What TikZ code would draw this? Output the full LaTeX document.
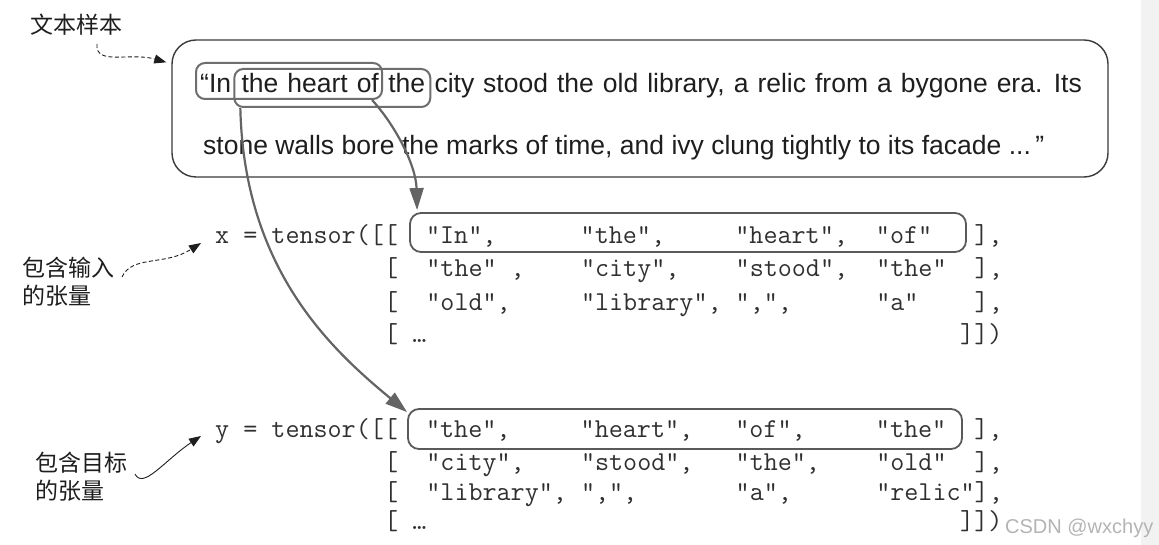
\documentclass[tikz,border=0pt]{standalone}
\usepackage{fontspec}
\setmainfont{Liberation Sans}
\newfontfamily\cjk{Noto Sans CJK SC}
\usetikzlibrary{arrows.meta,calc,fit}
\definecolor{ink}{HTML}{1E1E1E}
\definecolor{codeink}{HTML}{303030}
\definecolor{hlc}{HTML}{6E6E6E}
\definecolor{arrc}{HTML}{646464}
\definecolor{boxc}{HTML}{3A3A3A}
\definecolor{cboxc}{HTML}{5A5A5A}
\definecolor{wmc}{HTML}{B4B4B4}
\definecolor{stripc}{HTML}{F2F2F2}
\begin{document}
\begin{tikzpicture}[x=1pt,y=-1pt,
  txt/.style={font=\fontsize{26.5}{30}\selectfont, text=ink, inner sep=0pt, anchor=base west},
  just/.style={txt, execute at begin node={\spaceskip=9pt\relax}},
  code/.style={font=\ttfamily\fontsize{27.3}{30}\selectfont, text=codeink, inner sep=0pt, anchor=base west},
  cn/.style={font=\cjk\fontsize{23}{28}\selectfont, text=ink, inner sep=0pt, align=left},
  hl/.style={draw=hlc, line width=2pt, rounded corners=9pt, inner sep=0pt},
  bigbox/.style={draw=boxc, line width=1.4pt, rounded corners=24pt, inner sep=0pt},
  codebox/.style={draw=cboxc, line width=1.8pt, rounded corners=11pt, inner sep=0pt},
  bigarrow/.style={draw=arrc, line width=2.2pt, -{Triangle[length=22pt,width=14pt]}},
  note/.style={draw=ink, line width=0.9pt, -{Triangle[length=12pt,width=9pt]}},
  notedash/.style={note, dash pattern=on 4pt off 2.5pt}
]
\useasboundingbox (0,0) rectangle (1159,545);
\fill[white] (0,0) rectangle (1159,545);
\fill[stripc] (1141,0) rectangle (1159,545);

% sample text box
\node[bigbox, minimum width=936pt, minimum height=137pt] (sample) at (640,108.5) {};
\node[just] (w1) at (200,93) {“In};
\node[just] (w2) at ($(w1.base east)+(10,0)$) {the heart of};
\node[just] (w3) at ($(w2.base east)+(9,0)$) {the};
\node[just] (w4) at ($(w3.base east)+(9,0)$) {city stood the old library, a relic from a bygone era. Its};
\node[txt] (l2) at (203,155) {stone walls bore the marks of time, and ivy clung tightly to its facade ...\,”};

\node[hl, fit={($(w1.base west)+(-4,-30)$) ($(w2.base east)+(3,6)$)}] (b1) {};
\node[hl, fit={($(w2.base west)+(-7,-24)$) ($(w3.base east)+(5,14)$)}] (b2) {};

% labels
\node[cn, anchor=base west] (lab1) at (30,33.5) {文本样本};
\node[cn, anchor=north west] (lab2) at (22,257) {包含输入\\的张量};
\node[cn, anchor=north west] (lab3) at (35,452) {包含目标\\的张量};

% x tensor
\node[codebox, minimum width=556pt, minimum height=39pt] (xbox) at (688,232.5) {};
\node[code] (x1) at (215,244) {x~=~tensor([[~~"In",~~~~~~"the",~~~~~"heart",~~"of"~~~],};
\node[code] (x2) at (384,277) {[~~"the"~,~~~~"city",~~~~"stood",~~"the"~~],};
\node[code] (x3) at (384,311) {[~~"old",~~~~~"library",~",",~~~~~~"a"~~~~],};
\node[code] (x4a) at (384,342) {[~…};
\node[code] (x4b) at (960,342) {]])};

% y tensor
\node[codebox, minimum width=554pt, minimum height=40pt] (ybox) at (685,429) {};
\node[code] (y1) at (215,437) {y~=~tensor([[~~"the",~~~~~"heart",~~~"of",~~~~~"the"~~],};
\node[code] (y2) at (384,470) {[~~"city",~~~~"stood",~~~"the",~~~~"old"~~],};
\node[code] (y3) at (384,500) {[~~"library",~",",~~~~~~~"a",~~~~~~"relic"],};
\node[code] (y4a) at (384,529) {[~…};
\node[code] (y4b) at (960,529) {]])};

% watermark
\node[font=\fontsize{20}{24}\selectfont, text=wmc, anchor=base west, inner sep=0pt] (wm) at (1005,533) {CSDN @wxchyy};

% note arrows
\coordinate (s1) at (97,44);
\coordinate (s2) at (122,277);
\coordinate (s3) at (135,474);
\draw[notedash] (s1) .. controls (95,66) and (130,52) .. ($(sample.north west)+(-5,23)$);
\draw[notedash] (s2) .. controls (132,255) and (165,266) .. ($(x1.base west)+(-14,-1)$);
\draw[note] (s3) .. controls (143,490) and (165,460) .. ($(y1.base west)+(-14,-1)$);

% big arrows
\draw[bigarrow] ($(b1.south east)+(-11,0)$) .. controls (395,125) and (416,165) .. ($(xbox.north west)+(8,-2)$);
\draw[bigarrow] ($(b2.south west)+(7,0)$) .. controls (244,270) and (332,350) .. ($(ybox.north west)+(0,4)$);
\end{tikzpicture}
\end{document}
